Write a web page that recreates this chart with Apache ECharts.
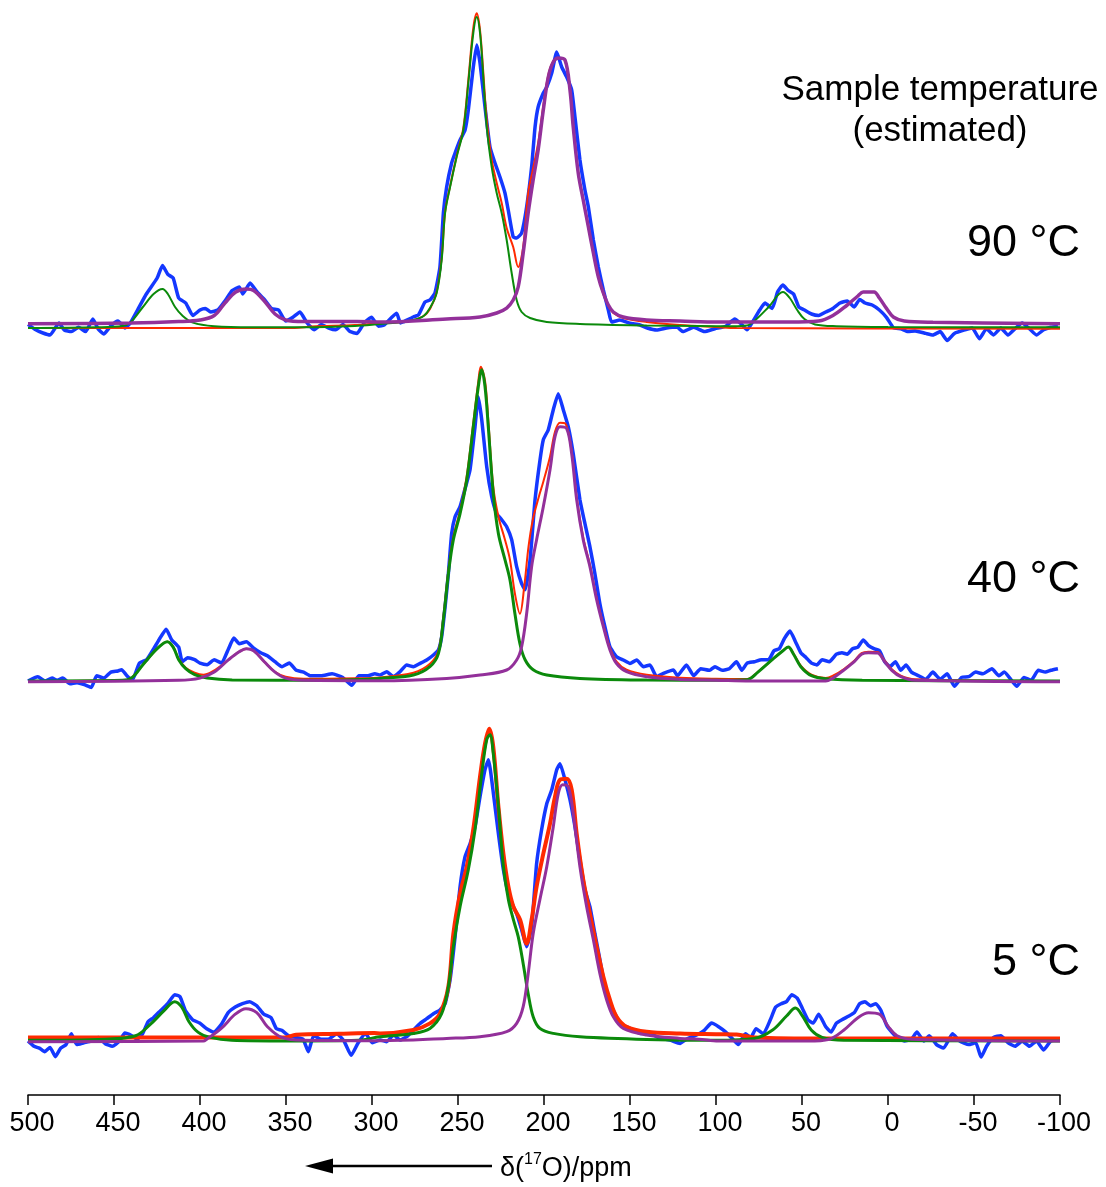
<!DOCTYPE html>
<html><head><meta charset="utf-8">
<script src="https://cdn.jsdelivr.net/npm/echarts@6/dist/echarts.min.js"></script>
<style>html,body{margin:0;padding:0;background:#fff}#c{width:1106px;height:1187px}</style>
</head><body><div id="c"></div>
<script>
// x ticks (ppm), axis reversed
const xTicks = [500,450,400,350,300,250,200,150,100,50,0,-50,-100];
const panelLabels = ['90 °C','40 °C','5 °C'];
const titleLines = ['Sample temperature','(estimated)'];

// ---------- 90 °C ----------
const top_blue = [[500,3.6],[495.5,-1.8],[491.3,-5],[487.2,-7],[482,5],[478.9,-2],[474.8,-3.6],[470.6,0.7],[466.5,-3.6],[462.3,9],[459.2,-1],[456,-6],[451.9,2],[447.7,7],[443.6,0],[440.5,5],[436.3,18],[431.2,34],[424.9,50],[421.8,62.5],[418.7,53.6],[415.6,50],[412.4,30],[408.3,25],[404.1,12.5],[400,18],[396.9,19.6],[393.8,16],[389.6,18],[385.5,27],[381.3,37.5],[377.2,41],[375.1,34],[370.9,45],[366.8,36],[362.6,28.6],[358.5,19.6],[354.3,18],[350.2,7],[346,10.7],[341.9,16],[337.7,5],[333.6,-1.8],[329.4,3.6],[325.2,0],[321.1,-1.8],[316.9,3.6],[312.8,-3.6],[308.7,-5.4],[304.5,5.4],[300.3,10.7],[296.2,1.8],
[293,3],[285.7,14.7],[283.5,5],[282,6],[276,11],[273,13],[269.2,26],[266.3,28],[263.4,35],[260.5,61],[258.5,115],[256.6,141],[253.7,165],[251.7,175],[248.8,188],[245.9,198],[244,218],[241.1,261],[239.1,283],[237.2,265],[234.3,221],[231.4,181],[228.5,165],[225.6,151],[222.7,135],[220.8,118],[217.9,91],[215.9,90],[213,95],[210.1,121],[207.2,161],[205.2,201],[203.4,221],[200.4,235],[198.4,241],[195.5,255],[192.6,276],[189.7,261],[186.8,251],[183.9,238],[182,211],[179.1,168],[176.2,138],[174.2,121],[171.3,88],[168.4,61],[165.5,38],[162.6,18],[160.7,6],[155.8,8],[150,4.7],[144.2,3],[140,0],[134.5,-2],[128.7,0],[122.9,1],
[119.2,-3.6],[113,0.7],[106.8,-3.6],[100.6,-0.7],[94.3,1.8],[89.1,9],[86,5],[81.9,-1.8],[77.7,9],[74.6,18],[71.5,25],[67.3,19.6],[64.2,36],[61.1,43],[58,37.5],[54.9,34],[51.8,21],[48.6,18],[44.5,14],[40.3,12.5],[36.2,16],[32,19.6],[27.9,25],[23.7,27],[19.6,21],[16.5,28.6],[13.3,25],[9.2,23],[5,18],[0.9,10.7],[-3.3,0],[-7.4,-0.7],[-11.6,-3.6],[-15.7,-2.9],[-21.9,-5.4],[-26.1,-7],[-30.3,-3.6],[-34.4,-12.5],[-38.6,-5.4],[-44.8,-1.8],[-49,0],[-53.1,-10.7],[-57.3,-0.7],[-61.4,-7],[-65.6,0],[-69.7,-7],[-73.9,-0.7],[-78,5],[-82.2,-0.7],[-86.3,-7],[-90.5,-1.8],[-94.6,0.7],[-98.8,1.8]];
const top_red = [[500,0],[345,0],[335,1.5],[310,3],[295,5],[280,6.5],[270,12],[266,20],[262.4,36],[259.5,70],[257.5,116],[254.6,142],[250.8,172],[246.9,200],[244,248],[241.1,300],[239.1,314.7],[237.2,298],[235.3,256],[233.3,208],[230.4,168],[227.5,145],[224.6,125],[221.7,100],[217.9,81],[215,61],[212.1,81],[209.2,135],[206.3,160],[203.4,185],[200.4,222],[197.5,253],[194.6,267],[191.7,270],[187.8,268],[184.9,238],[183,201],[180.1,155],[177.2,128],[174.2,101],[171.3,75],[168.4,51],[165.5,34],[162.6,22],[159.7,15],[153.9,10],[140.3,6],[121,3],[100,1],[88,0],[-100,-0.7]];
const top_green = [[500,0],[460,0.7],[445,2],[440.5,5.4],[433.2,21],[427,34],[421.8,39],[418.7,34],[414.5,21],[410.3,12.5],[404.1,5.4],[391.7,1.8],[370,0.7],[340,0.7],[310,2],[295.3,4],[285,5.5],[275.9,8],[270,12],[266.3,20],[262.4,35],[259.5,68],[257.5,115],[254.6,141],[250.8,171],[246.9,198],[244,245],[241.1,295],[239.1,311],[237.2,295],[235.3,251],[233.3,201],[230.4,161],[227.5,135],[224.6,115],[221.7,88],[218.8,55],[215.9,28],[213,16],[208.1,10],[198.4,6],[179.1,4],[140.3,2.5],[110,2],[90,1.8],[82,2.5],[77.7,7],[69.4,21],[61.1,36],[57.1,30],[52.8,18],[48.6,9],[42.4,3.6],[30,1.8],[0,1],[-100,0.7]];
const top_purple = [[500,4.3],[440,5],[412.4,6.4],[400,8],[391.7,12.5],[385.5,25],[379.2,36],[373,39],[368.8,37.5],[362.6,27],[356.4,14],[350.2,8],[339.8,6.4],[308.7,6.4],[295.3,6],[256.6,9],[237.2,11],[227.5,15],[221.7,20],[217.9,28],[215,41],[212.1,75],[209.2,115],[206.3,148],[203.4,178],[200.4,218],[197.5,251],[194.6,266],[191.7,270],[187.8,268],[184.9,238],[183,201],[180.1,155],[177.2,128],[174.2,101],[171.3,75],[168.4,51],[165.5,35],[162.6,23],[159.7,16],[153.9,11],[140.3,8],[120.9,7],[98.5,6],[57.1,6],[40.3,7],[32,12.5],[23.7,23],[17.5,32],[14.4,36],[8.1,36],[5,30],[0.9,19.6],[-3.3,10.7],[-9.5,7],[-26.1,5.7],[-100,4.3]];

// ---------- 40 °C ----------
const mid_blue = [[500,0.7],[494.3,5],[490.1,0.7],[486,3.6],[482.9,1.4],[479.8,3.6],[475.6,-2],[471.5,-1],[467.3,-3],[463.2,-5.7],[460.1,6],[455.9,3.6],[451.8,9.6],[447.7,10.7],[445.6,12],[442.5,6],[439.4,1.4],[435.2,18.6],[431,22],[426.9,33],[423.8,42],[419.7,52.5],[416.5,42],[412.4,34.6],[410.3,20],[407.2,24],[403.1,22],[400,18.6],[395.8,17],[391.7,22],[387.5,18.6],[383.4,33],[380.3,43.6],[377.2,38],[373,40],[368.8,33.6],[364.7,29],[360.6,25.7],[356.4,20],[352.3,15],[348.1,18.6],[344,11.4],[339.8,9.6],[335.7,6],[329.4,6],[323.2,7.9],[317,4.3],[311.8,-3.6],[307.6,6],[302.4,6],[298.3,7.9],
[295.3,6.7],[291.4,10],[287.5,5],[283.7,10],[279.8,16.7],[275.9,15],[272,18.3],[268.2,21.7],[264.3,26.7],[261.4,31.7],[259.5,45],[257.5,75],[255.6,108],[253.7,148],[251.7,165],[248.8,175],[245.9,193],[243,212],[240.1,255],[238.2,285],[236.2,262],[233.3,215],[230.4,185],[227.5,168],[224.6,162],[221.7,155],[218.8,142],[215.9,115],[213,98],[211,92],[208.1,122],[205.2,182],[202.3,222],[200.4,242],[197.5,252],[194.6,272],[191.7,288],[188.8,272],[185.9,255],[183,228],[179.1,182],[176.2,158],[173.3,135],[170.4,108],[167.5,78],[164.6,55],[161.7,35],[157.8,25],[153.9,21.7],[150,18.3],[146.1,21.7],[142.2,15],[138.4,16.7],[134.5,5],[130.6,8.3],[124.8,11.7],
[122.4,6],[117.2,16.8],[113,6],[108.9,13],[103.7,11.4],[100.6,15],[96.4,11.4],[92.3,13],[88.1,20],[85,11.4],[81.9,18.6],[77.7,20],[73.6,22],[69.4,22],[66.3,31],[63.2,33],[60.1,43.6],[57,50.7],[53.8,40],[50.7,29],[47.6,24],[44.5,18.6],[41.4,16.8],[38.3,22],[34.1,20],[30,27.5],[26.8,29],[23.7,27.5],[20.6,33],[17.5,34.6],[14.4,41.8],[11.3,36],[8.2,33],[5,31],[1.9,20],[-1.2,15],[-4.3,20],[-7.4,11.4],[-10.5,16.8],[-13.6,9.6],[-17.8,6],[-22,2.5],[-26.1,9.6],[-30.3,2.5],[-34.4,7.9],[-38.6,-4.6],[-42.8,4.3],[-46.9,5],[-51,9.6],[-55.2,7.9],[-60.4,13],[-64.5,6],[-67.6,9.6],[-71.8,1.4],[-74.9,-4.6],[-79.1,4.3],[-83.2,1.4],[-87.4,11.4],[-91.5,9.6],[-94.6,11.4],[-98.8,13]];
const mid_red = [[500,0.7],[445,1.5],[439.4,4.5],[433.2,17],[424.9,33],[419,40],[415.6,35],[412.4,23],[408.3,14],[403.1,9],[398,7],[393,10],[387,17],[383.4,22],[377.2,30],[373,33],[368.8,31],[362.6,20],[356.4,10],[350.2,5],[339.8,3],[310,3.5],[295.3,4.3],[275.9,9],[266.3,18],[261.4,31],[258.5,65],[255.6,111],[252.7,145],[248.8,171],[244.9,206],[241.1,259],[238.2,300],[236.8,315],[234.3,301],[232.4,262],[229.5,195],[226.5,165],[222.7,142],[219.8,122],[216.9,88],[214,68],[211.5,95],[209,135],[206.5,162],[203,185],[200.4,200],[196.5,225],[193.6,250],[190.7,259],[187.5,258],[183.9,230],[181,184],[177.2,144],[173.3,117],[169.4,84],[165.5,57],[161.7,34],[157.8,20],[152,12],[140.3,7],[120.9,4],[100,2.9],[81.9,2.7],[75.6,10],[67.3,22],[61.1,31],[58,34.6],[54.9,28],[50.7,16],[44.5,7],[36.2,3.6],[32,6],[25.8,12.5],[19.6,21],[15.4,28.5],[11.3,30],[6.1,29.6],[1.9,21],[-2.2,12.4],[-7.4,6],[-15.7,2.4],[-100,0.7]];
const mid_green = [[500,0.7],[445,1.4],[439.4,4.3],[433.2,17],[424.9,33],[419,40],[415.6,34.6],[412.4,22],[408.3,13],[403.1,7],[395.8,3.6],[381.3,1.8],[329.4,1.4],[311,2],[295.3,3.3],[275.9,6.7],[266.3,15],[261.4,28],[258.5,62],[255.6,108],[252.7,142],[248.8,168],[244.9,202],[241.1,255],[238.2,295],[236.2,312],[234.3,295],[232.4,255],[229.5,188],[226.5,148],[222.7,122],[219.8,102],[216.9,68],[214,38],[211,22],[206.3,12],[198.4,6.7],[179.1,3.3],[140.3,1.7],[100,1.4],[81.9,2],[75.6,9.6],[67.3,22],[61.1,31],[58,34.6],[54.9,27.5],[50.7,15],[44.5,6],[36.2,2.9],[15,1.4],[-100,0.7]];
const mid_purple = [[500,0],[412.4,1.4],[400,3.6],[391.7,9.6],[383.4,22],[377.2,30],[373,33],[368.8,31],[362.6,20],[356.4,9.6],[350.2,3.6],[339.8,1.4],[295.3,1],[256.6,3.3],[237.2,6.7],[221.7,11.7],[215.9,21.7],[213,35],[210.1,68],[207.2,115],[204.3,142],[200.4,175],[196.5,212],[193.6,245],[190.7,255],[186.8,253],[183.9,228],[181,182],[177.2,142],[173.3,115],[169.4,82],[165.5,55],[161.7,32],[157.8,18],[152,10],[140.3,5],[120.9,2.3],[100,1.5],[80,0.7],[36.2,0.7],[32,3.6],[25.8,11.4],[19.6,20],[15.4,27.5],[11.3,29],[6.1,28.6],[1.9,20],[-2.2,11.4],[-7.4,5],[-15.7,1.4],[-100,0]];

// ---------- 5 °C ----------
const bot_blue = [[500,0.7],[496.5,-4.6],[493.4,-6.4],[490.3,-10],[487.2,-5.7],[484.1,-15],[481,-6.4],[477.9,-2.9],[474.8,7.9],[471.7,-2.9],[467.5,-1],[463.4,0.7],[459.2,4.3],[455.1,-2],[451,-4.6],[446.8,0.7],[443.7,8.6],[439.6,6],[436.5,2.5],[433.4,7.9],[430.2,20],[427.1,24],[423,31],[418.8,38],[414.7,47],[411.6,45],[408.5,31],[404.3,22],[400.2,18.6],[396.1,13],[391.9,9.6],[387.8,16.8],[383.6,29],[379.5,34.6],[375.3,38],[371.2,40],[367,36],[362.9,27.5],[358.7,24],[355.6,13],[352.5,11.4],[348.4,6],[344.2,4.3],[340.1,2.5],[337,-10],[333.9,6],[329.7,2.5],[325.6,2.5],[320.4,7.9],[316.3,0.7],[312.1,-13.6],[308,-1],[303.8,7.9],[299.7,-1],
[295.3,1.7],[291.4,0],[287.5,6.7],[283.7,1.7],[279.8,5],[275.9,11.7],[272,18.3],[268.2,23],[264.3,28],[260.5,31.7],[257.5,38],[254.6,62],[251.7,105],[248.8,155],[245.9,185],[243,198],[240.1,215],[237.2,245],[234.3,272],[232.3,282],[229.4,248],[226.5,208],[223.6,172],[220.7,148],[217.8,135],[215.9,128],[213,112],[210.1,95],[207.2,115],[204.3,178],[201.4,212],[198.4,238],[195.5,252],[192.6,272],[190.7,278],[187.8,262],[184.9,242],[182,215],[179.1,182],[176.2,152],[173.3,135],[170.4,108],[167.5,82],[164.6,55],[161.7,38],[158.8,28],[155.8,18.3],[150,13.3],[144.2,8.3],[138.4,8.3],[132.6,3.3],[126.8,1.7],[120.9,-1.7],
[117.2,2.5],[110.9,7],[106.8,11.4],[102.6,18.6],[98.5,15],[94.3,9.6],[90.2,2.5],[87.1,-2.9],[82.9,7.9],[79.8,4.3],[76.7,13],[72.5,7.9],[68.4,22],[65.3,34.6],[62.1,38],[59,40],[55.9,47],[52.8,43.6],[49.7,33],[46.6,22],[43.5,18.6],[40.3,27.5],[36.2,15],[33.1,9.6],[30,18.6],[26.8,22],[22.7,25.7],[19.6,29],[16.5,38],[13.4,40],[10.2,36],[7.1,38],[4,31],[0.9,16.8],[-2.2,9.6],[-5.3,4.3],[-9.5,0.7],[-13.6,2.5],[-16.8,9.6],[-20.9,0.7],[-24,6],[-28.2,-2.9],[-32.3,-6.4],[-37.5,7.9],[-41.7,0.7],[-46.9,-2.9],[-51,-1],[-54.1,-15.4],[-57.3,-4.6],[-61.4,4.3],[-65.6,6],[-69.7,-1],[-73.9,-4.6],[-78,0.7],[-82.2,-4.6],[-86.3,0.7],[-90.5,-8.2],[-94.6,0.7],[-98.8,2.5]];
const bot_red = [[500,4.3],[350.5,4.3],[344.2,7],[319.4,7.9],[298.6,8.6],[295.3,8.3],[275.9,11.7],[266.3,18.3],[260.5,28],[255.6,55],[252.7,108],[248.8,148],[244.9,175],[240.9,215],[237.2,265],[234.3,298],[231.8,313],[229.5,295],[226.5,235],[223.6,188],[220.7,155],[217.8,135],[213.9,122],[210.1,98],[207.2,122],[204.3,155],[200.4,188],[196.5,218],[193.6,245],[190.7,262],[186.8,263],[183.9,252],[181,208],[177.2,162],[173.3,128],[169.4,95],[165.5,65],[161.7,42],[157.8,25],[152,15],[140.3,10],[120.9,8.3],[100,7.5],[88,7.1],[77.7,4.3],[36.2,3.2],[-100,3.2]];
const bot_green = [[500,1.4],[455,2.5],[437.5,6],[429.2,16.8],[420.9,31],[414.7,40],[410.6,34.6],[406.4,20],[401.2,9.6],[394,4.3],[381.6,1.4],[350,0.7],[308,1.4],[295.3,5],[275.9,8.3],[266.3,13.3],[259.5,28],[255.6,55],[252.7,95],[248.8,135],[244,172],[240.1,212],[236.2,268],[233.3,302],[231.4,307],[229.5,288],[226.5,235],[223.6,175],[220.7,142],[217.8,122],[215,105],[212.1,78],[209.2,48],[206.3,25],[202.4,13.3],[194.6,8.3],[179.1,5],[140.3,2.3],[100,1.4],[77.7,3.2],[67.3,11.4],[59,25.7],[53.8,33.6],[49.7,25.7],[44.5,11.4],[38.3,4.3],[25.8,1.4],[-100,0.7]];
const bot_purple = [[500,0],[398,0.7],[396.1,2.5],[387.8,13],[379.5,27.5],[373.3,33],[367,29],[360.8,15],[352.5,4.3],[340,1.4],[295.3,1],[256.6,3.3],[237.2,5],[221.7,10],[215.9,18.3],[212.1,35],[209.2,68],[206.3,108],[202.4,142],[198.4,175],[194.6,215],[191.7,248],[189.2,257],[185.9,255],[183,228],[179.1,175],[175.2,135],[171.3,102],[167.5,68],[163.6,42],[159.7,25],[153.9,13.3],[140.3,6.7],[120.9,3.3],[110,2.5],[98.5,0.7],[46.6,0.7],[34.1,2.5],[25.8,11.4],[17.5,24],[11.3,29],[5,27.5],[-0.2,15],[-5.3,6],[-13.6,2.5],[-100,0.7]];

const panels = [
  {blue: top_blue, red: top_red, green: top_green, purple: top_purple, w:{b:3.5,r:2,g:2,p:3.5}},
  {blue: mid_blue, red: mid_red, green: mid_green, purple: mid_purple, w:{b:3.5,r:2,g:3,p:3}},
  {blue: bot_blue, red: bot_red, green: bot_green, purple: bot_purple, w:{b:3.5,r:4,g:3,p:3}}
];
const COLORS = {blue:'#1438ff', red:'#ff2a00', green:'#0b8a0b', purple:'#93309a'};
const FONT = 'Liberation Sans, Arial, sans-serif';
const baselines = [328, 681.7, 1041.7];
const YMIN = -40, YMAX = 320;

const grids = [], xAxes = [], yAxes = [], series = [];
panels.forEach((p, i) => {
  grids.push({left: 28, right: 46, top: baselines[i] - YMAX, height: YMAX - YMIN});
  const isBottom = i === 2;
  xAxes.push({
    gridIndex: i, type: 'value', min: -100, max: 500, interval: 50, inverse: true,
    show: isBottom, offset: isBottom ? 13.3 : 0,
    axisLine: {show: isBottom, onZero: false, lineStyle: {color: '#000', width: 1.5}},
    axisTick: {show: isBottom, length: 10, inside: false, lineStyle: {color: '#000', width: 1.5}},
    axisLabel: {show: isBottom, fontSize: 27, color: '#000', fontFamily: FONT, margin: 15, padding: [0,0,0,8],
      formatter: v => xTicks.indexOf(v) >= 0 ? String(v) : ''},
    splitLine: {show: false}
  });
  yAxes.push({gridIndex: i, type: 'value', min: YMIN, max: YMAX, show: false, splitLine: {show: false}});
  ['blue','red','green','purple'].forEach(k => {
    series.push({
      type: 'line', xAxisIndex: i, yAxisIndex: i, data: p[k], showSymbol: false, symbol: 'none',
      smooth: k === 'blue' ? 0.15 : 0.35, clip: false, animation: false,
      lineStyle: {color: COLORS[k], width: p.w[k[0]]}, z: {blue:2, red:3, green:4, purple:5}[k]
    });
  });
});

const labelY = [244, 580, 963];
const graphic = [
  {type:'text', x: 940, y: 90, style: {text: titleLines[0], font: '35px ' + FONT, fill:'#000', textAlign:'center', textVerticalAlign:'middle'}},
  {type:'text', x: 940, y: 131, style: {text: titleLines[1], font: '35px ' + FONT, fill:'#000', textAlign:'center', textVerticalAlign:'middle'}},
  ...panelLabels.map((t, i) => ({type:'text', x: 1080, y: labelY[i], style: {text: t, font: '45px ' + FONT, fill:'#000', textAlign:'right', textVerticalAlign:'middle'}})),
  {type:'line', shape: {x1: 328, y1: 1166, x2: 492, y2: 1166}, style: {stroke:'#000', lineWidth: 2.5}},
  {type:'polygon', shape: {points: [[305,1166],[333,1158.5],[333,1173.5]]}, style: {fill:'#000'}},
  {type:'text', x: 500, y: 1167, style: {
    text: '{a|δ(}{s|17}{a|O)/ppm}', textAlign:'left', textVerticalAlign:'middle',
    rich: {a: {fontSize: 27, fontFamily: FONT, fill:'#000', lineHeight: 30, verticalAlign:'bottom'},
           s: {fontSize: 16, fontFamily: FONT, fill:'#000', lineHeight: 30, verticalAlign:'top'}}
  }}
];

const chart = echarts.init(document.getElementById('c'), null, {renderer: 'canvas'});
chart.setOption({animation: false, backgroundColor: '#fff', grid: grids, xAxis: xAxes, yAxis: yAxes, series, graphic});
</script></body></html>
